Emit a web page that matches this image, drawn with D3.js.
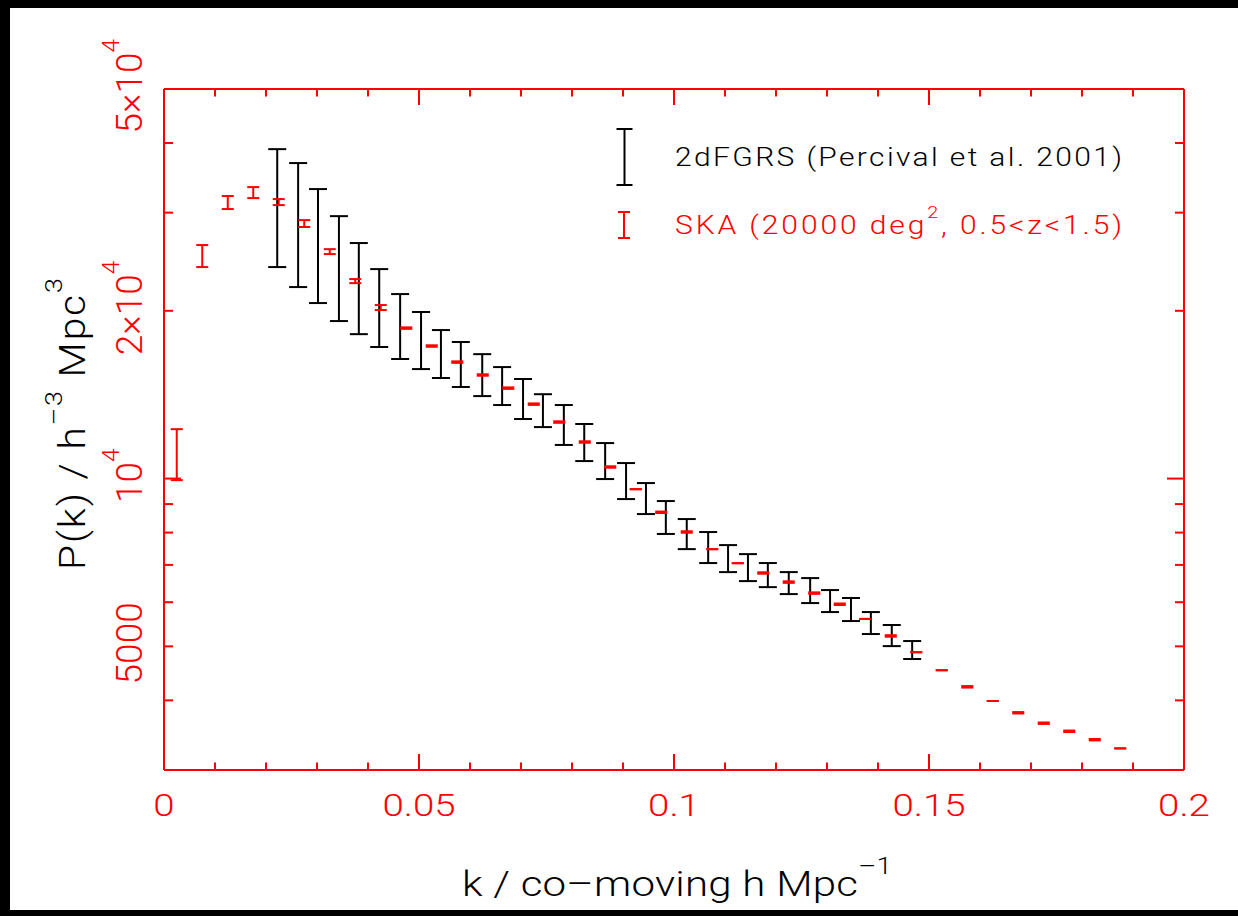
<!DOCTYPE html>
<html>
<head>
<meta charset="utf-8">
<script src="https://cdn.jsdelivr.net/npm/d3@7"></script>
<style>
  html, body { margin: 0; padding: 0; background: #000; }
  svg { display: block; }
</style>
</head>
<body>
<svg id="chart" width="1238" height="916"></svg>
<script>
// ---- 2dFGRS power spectrum (Percival et al. 2001) ----
const dfK = [0.0222, 0.0263, 0.0302, 0.0343, 0.0382, 0.0422, 0.0463, 0.0504,
             0.0543, 0.0582, 0.0624, 0.0663, 0.0704, 0.0743, 0.0784, 0.0824,
             0.0865, 0.0906, 0.0945, 0.0984, 0.1025, 0.1067, 0.1106, 0.1145,
             0.1184, 0.1225, 0.1267, 0.1306, 0.1347, 0.1386, 0.1427, 0.1467];
const dfP = [31480, 29440, 26860, 24370, 22310, 20490, 18910, 17810,
             16810, 16090, 15390, 14700, 13940, 13270, 12520, 11640,
             10780, 9925, 9226, 8534, 7966, 7536, 7196, 6933,
             6720, 6500, 6304, 6035, 5828, 5511, 5233, 4928];
const dfErr = [7520, 7380, 6210, 5200, 4150, 3270, 2520, 2090,
               1660, 1490, 1330, 1150, 1150, 900, 1030, 890,
               800, 737, 590, 579, 494, 482, 401, 386,
               334, 295, 325, 274, 277, 250, 228, 183];

// ---- SKA forecast (20000 deg^2, 0.5<z<1.5) ----
const skaK = [0.0025, 0.0075, 0.0125, 0.0175, 0.0225, 0.0275, 0.0325, 0.0375,
              0.0425, 0.0475, 0.0525, 0.0575, 0.0625, 0.0675, 0.0725, 0.0775,
              0.0825, 0.0875, 0.0925, 0.0975, 0.1025, 0.1075, 0.1125, 0.1175,
              0.1225, 0.1275, 0.1325, 0.1375, 0.1425, 0.1475, 0.1525, 0.1575,
              0.1625, 0.1675, 0.1725, 0.1775, 0.1825, 0.1875];
const skaP = [11100, 25100, 31290, 32600, 31340, 28680, 25540, 22610,
              20270, 18620, 17290, 16180, 15340, 14530, 13600, 12630,
              11630, 10490, 9570, 8700, 8020, 7470, 7050, 6770,
              6520, 6230, 5950, 5600, 5220, 4880, 4530, 4230,
              3990, 3800, 3640, 3520, 3400, 3280];
const skaErr = [1165, 1140, 840, 740, 390, 410, 260, 190,
                210, 56, 52, 49, 46, 44, 41, 38,
                35, 31, 0, 26, 24, 0, 0, 20,
                20, 19, 18, 0, 16, 0, 0, 13,
                0, 11, 11, 11, 10, 0];

// ---- axis ticks and labels ----
const xMajorTicks = [0, 0.05, 0.1, 0.15, 0.2];
const xMajorLabels = ["0", "0.05", "0.1", "0.15", "0.2"];
const xMinorTicks = [0.01, 0.02, 0.03, 0.04, 0.06, 0.07, 0.08, 0.09,
                     0.11, 0.12, 0.13, 0.14, 0.16, 0.17, 0.18, 0.19];
const yDecadeTicks = [10000];
const yMinorTicks = [4000, 5000, 6000, 7000, 8000, 9000, 20000, 30000, 40000];
const yLabelValues = [5000, 10000, 20000, 50000];
const yLabelTexts = ["5000", "10^{4}", "2×10^{4}", "5×10^{4}"];

const legendNames = ["2dFGRS (Percival et al. 2001)", "SKA (20000 deg^{2}, 0.5<z<1.5)"];

const RED = "#ff0000";
const FONT = "Roboto, 'Liberation Sans', Arial, sans-serif";
const WEIGHT = 300;

const svg = d3.select("#chart");
const W = 1238, H = 916;
const plot = { left: 164, right: 1184, top: 89, bottom: 770 };

// page frame
svg.append("rect").attr("width", W).attr("height", H).attr("fill", "#000");
svg.append("rect").attr("x", 10).attr("y", 8).attr("width", W - 10).attr("height", 902).attr("fill", "#fff");

const x = d3.scaleLinear().domain([0, 0.2]).range([plot.left, plot.right]);
const y = d3.scaleLog().domain([3000, 50000]).range([plot.bottom, plot.top]);

// ---- axes: four sides, ticks pointing inward ----
function styleAxis(g) {
  g.selectAll("path, line").attr("stroke", RED).attr("stroke-width", 2);
  g.selectAll("text").remove();
}
function addAxis(maker, scale, tr, values, size) {
  svg.append("g").attr("transform", tr)
    .call(maker(scale).tickValues(values).tickSizeInner(size).tickSizeOuter(0).tickFormat("").offset(0))
    .call(styleAxis);
}
const bottomTr = `translate(0,${plot.bottom})`, topTr = `translate(0,${plot.top})`;
const leftTr = `translate(${plot.left},0)`, rightTr = `translate(${plot.right},0)`;
addAxis(d3.axisBottom, x, bottomTr, xMinorTicks, -7.5);
addAxis(d3.axisBottom, x, bottomTr, xMajorTicks, -16);
addAxis(d3.axisTop, x, topTr, xMinorTicks, -7.5);
addAxis(d3.axisTop, x, topTr, xMajorTicks, -16);
addAxis(d3.axisLeft, y, leftTr, yMinorTicks, -9);
addAxis(d3.axisLeft, y, leftTr, yDecadeTicks, -17);
addAxis(d3.axisRight, y, rightTr, yMinorTicks, -9);
addAxis(d3.axisRight, y, rightTr, yDecadeTicks, -17);

// ---- text with superscripts; fitted to a length by widening glyphs and spacing ----
function parseRich(str) {
  const parts = [];
  const re = /\^\{([^}]*)\}/g;
  let last = 0, m;
  while ((m = re.exec(str)) !== null) {
    if (m.index > last) parts.push({ text: str.slice(last, m.index), sup: false });
    parts.push({ text: m[1], sup: true });
    last = re.lastIndex;
  }
  if (last < str.length) parts.push({ text: str.slice(last), sup: false });
  return parts;
}
function richText(str, o) {
  const g = svg.append("g");
  const t = g.append("text")
    .attr("fill", o.color)
    .style("font-family", FONT)
    .style("font-weight", WEIGHT)
    .style("font-size", o.size + "px");
  const raise = o.size * 0.62;
  let up = false, n = 0;
  parseRich(str).forEach(p => {
    n += p.text.length;
    const ts = t.append("tspan").text(p.text);
    if (p.sup) {
      ts.style("font-size", (o.size * 0.66) + "px").attr("dy", -raise);
      up = true;
    } else if (up) {
      ts.attr("dy", raise);
      up = false;
    }
  });
  let w = t.node().getBBox().width;
  let sx = o.stretch || 1;
  if (o.length) {
    sx = Math.min(o.maxStretch || 1.1, o.length / w);
    const ls = (o.length / sx - w) / Math.max(1, n - 1);
    if (ls > 0) {
      t.style("letter-spacing", ls + "px");
      w = t.node().getBBox().width - ls;
    }
  }
  const anchor = o.anchor === "middle" ? 0.5 : (o.anchor === "end" ? 1 : 0);
  t.attr("x", -w * anchor);
  g.attr("transform", `translate(${o.x},${o.y}) rotate(${o.rotate || 0}) scale(${sx},1)`);
  return g;
}

// x tick labels
xMajorTicks.forEach((v, i) => {
  richText(xMajorLabels[i], { x: x(v), y: 816, size: 32, color: RED, anchor: "middle", stretch: 1.2 });
});
// y tick labels (rotated)
yLabelValues.forEach((v, i) => {
  richText(yLabelTexts[i], { x: 142, y: y(v) - 3, size: 37, color: RED, anchor: "middle", rotate: -90 });
});

// axis titles
richText("k / co–moving h Mpc^{–1}", { x: 462, y: 896, size: 35, color: "#000", anchor: "start", length: 430, maxStretch: 1.2 });
richText("P(k) / h^{–3} Mpc^{3}", { x: 85, y: 424, size: 37, color: "#000", anchor: "middle", rotate: -90, length: 292, maxStretch: 1.1 });

// ---- error bars ----
function errorBars(ks, ps, errs, color, capW) {
  const g = svg.append("g").attr("stroke", color).attr("stroke-width", 2).attr("fill", "none");
  const data = ks.map((k, i) => ({ k, p: ps[i], e: errs[i] }));
  const bars = g.selectAll("g").data(data).join("g");
  bars.append("line")
    .attr("x1", d => x(d.k)).attr("x2", d => x(d.k))
    .attr("y1", d => y(d.p + d.e)).attr("y2", d => y(d.p - d.e));
  bars.append("line")
    .attr("x1", d => x(d.k) - capW / 2).attr("x2", d => x(d.k) + capW / 2)
    .attr("y1", d => y(d.p + d.e)).attr("y2", d => y(d.p + d.e));
  bars.append("line")
    .attr("x1", d => x(d.k) - capW / 2).attr("x2", d => x(d.k) + capW / 2)
    .attr("y1", d => y(d.p - d.e)).attr("y2", d => y(d.p - d.e));
}
errorBars(dfK, dfP, dfErr, "#000", 18);
errorBars(skaK, skaP, skaErr, RED, 12);

// ---- legend ----
function legendBar(cx, y1, y2, capW, color) {
  const g = svg.append("g").attr("stroke", color).attr("stroke-width", 2);
  g.append("line").attr("x1", cx).attr("x2", cx).attr("y1", y1).attr("y2", y2);
  g.append("line").attr("x1", cx - capW / 2).attr("x2", cx + capW / 2).attr("y1", y1).attr("y2", y1);
  g.append("line").attr("x1", cx - capW / 2).attr("x2", cx + capW / 2).attr("y1", y2).attr("y2", y2);
}
legendBar(624.5, 129, 185, 16, "#000");
legendBar(624, 212, 238, 12, RED);
richText(legendNames[0], { x: 675, y: 166, size: 25, color: "#000", anchor: "start", length: 447, maxStretch: 1.2 });
richText(legendNames[1], { x: 675, y: 233.5, size: 25, color: RED, anchor: "start", length: 447, maxStretch: 1.2 });
</script>
</body>
</html>
